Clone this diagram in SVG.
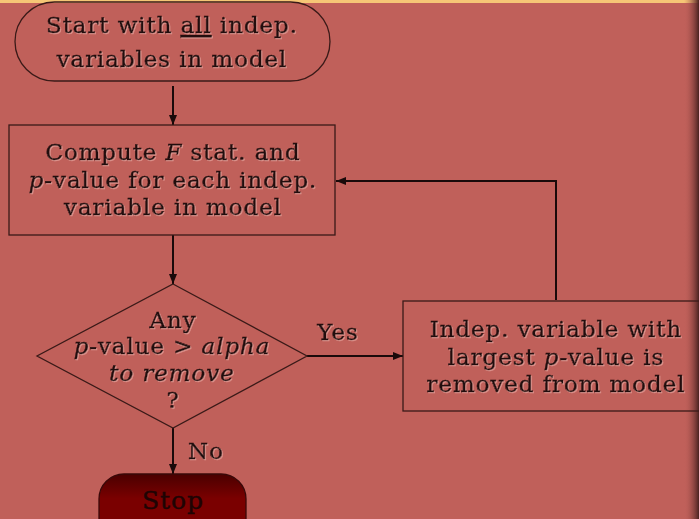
<svg xmlns="http://www.w3.org/2000/svg" width="699" height="519" viewBox="0 0 699 519">
<defs>
<style>
.t{font-family:"DejaVu Serif","Liberation Serif",serif;font-size:23px;letter-spacing:0.9px;fill:#241010;stroke:#241010;stroke-width:0.45;text-anchor:middle;filter:url(#sh)}
.i{font-style:italic}
.n{fill:none;stroke:#3a1a18;stroke-width:1.3}
.c{fill:none;stroke:#1a0a0a;stroke-width:2}
</style>
<filter id="sh" x="-5%" y="-20%" width="110%" height="140%">
<feDropShadow dx="1" dy="1" stdDeviation="0.3" flood-color="#e9a9a2" flood-opacity="0.7"/>
</filter>
<marker id="ah" viewBox="0 0 10 10" refX="10" refY="5" markerWidth="10" markerHeight="10" orient="auto-start-reverse" markerUnits="userSpaceOnUse">
<path d="M0,1 L10,5 L0,9 z" fill="#1a0a0a"/>
</marker>
<linearGradient id="edge" x1="0" y1="0" x2="1" y2="0">
<stop offset="0" stop-color="#c0605a" stop-opacity="0"/>
<stop offset="1" stop-color="#4a2220"/>
</linearGradient>
<linearGradient id="stopg" x1="0" y1="0" x2="0" y2="1">
<stop offset="0" stop-color="#4a0000"/>
<stop offset="0.35" stop-color="#7a0000"/>
<stop offset="0.7" stop-color="#7a0000"/>
<stop offset="1" stop-color="#4a0000"/>
</linearGradient>
</defs>
<rect x="0" y="0" width="699" height="519" fill="#c0605a"/>
<rect x="0" y="0" width="699" height="3" fill="#f6c676"/>
<rect x="684" y="0" width="15" height="519" fill="url(#edge)"/>

<g id="connectors">
<line class="c" x1="173" y1="86" x2="173" y2="125" marker-end="url(#ah)"/>
<line class="c" x1="173" y1="235" x2="173" y2="284" marker-end="url(#ah)"/>
<line class="c" x1="307" y1="356" x2="403" y2="356" stroke-width="1.5" marker-end="url(#ah)"/>
<polyline class="c" points="556,300 556,181 336,181" marker-end="url(#ah)"/>
<line class="c" x1="173" y1="428" x2="173" y2="474" marker-end="url(#ah)"/>
<text class="t" x="338" y="340">Yes</text>
<text class="t" x="206" y="459">No</text>
</g>

<g id="start">
<rect class="n" x="15" y="2" width="315" height="79" rx="39.5"/>
<text class="t" x="172" y="33">Start with <tspan text-decoration="underline">all</tspan> indep.</text>
<text class="t" x="172" y="67">variables in model</text>
</g>

<g id="compute">
<rect class="n" x="9" y="125" width="326" height="110"/>
<text class="t" x="173" y="160">Compute <tspan class="i">F</tspan> stat. and</text>
<text class="t" x="173" y="188"><tspan class="i">p</tspan>-value for each indep.</text>
<text class="t" x="173" y="215">variable in model</text>
</g>

<g id="decision">
<polygon class="n" points="173,284 307,356 173,428 37,356"/>
<text class="t" x="173" y="328">Any</text>
<text class="t" x="172" y="354"><tspan class="i">p</tspan>-value &gt; <tspan class="i">alpha</tspan></text>
<text class="t i" x="172" y="381">to remove</text>
<text class="t" x="173" y="408">?</text>
</g>

<g id="remove">
<rect class="n" x="403" y="301" width="300" height="110"/>
<text class="t" x="556" y="337">Indep. variable with</text>
<text class="t" x="556" y="365">largest <tspan class="i">p</tspan>-value is</text>
<text class="t" x="556" y="392">removed from model</text>
</g>

<g id="stop">
<rect x="99" y="474" width="147" height="70" rx="25" fill="url(#stopg)" stroke="#3a0808" stroke-width="1.3"/>
<text class="t" x="173" y="509" style="fill:#1e0404;stroke:#1e0404;filter:none;font-size:25px">Stop</text>
</g>
</svg>
